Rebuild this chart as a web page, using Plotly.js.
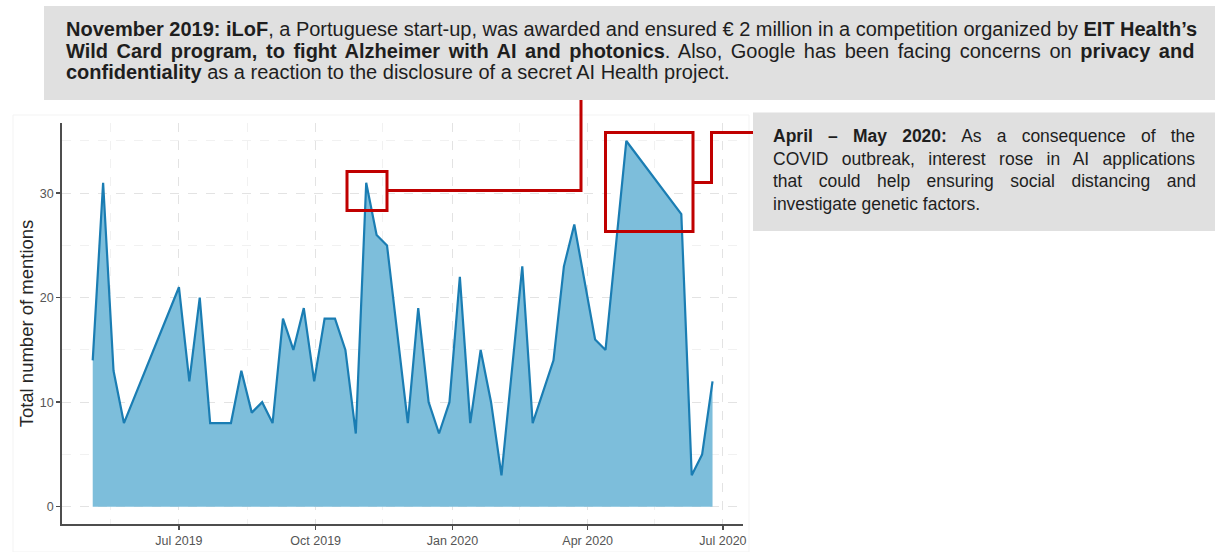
<!DOCTYPE html>
<html>
<head>
<meta charset="utf-8">
<script src="https://cdn.plot.ly/plotly-3.0.1.min.js"></script>
<style>html,body{margin:0;padding:0;background:#fff;}#chart{width:1215px;height:552px;}</style>
</head>
<body>
<div id="chart"></div>
<script>
// ---- data (weekly mention counts) ----
const weekDates = [
  '2019-05-04','2019-05-11','2019-05-18','2019-05-25',
  '2019-07-01','2019-07-08','2019-07-15','2019-07-22','2019-07-29',
  '2019-08-05','2019-08-12','2019-08-19','2019-08-26',
  '2019-09-02','2019-09-09','2019-09-16','2019-09-23','2019-09-30',
  '2019-10-07','2019-10-14','2019-10-21','2019-10-28',
  '2019-11-04','2019-11-11','2019-11-18',
  '2019-12-02','2019-12-09','2019-12-16','2019-12-23','2019-12-30',
  '2020-01-06','2020-01-13','2020-01-20','2020-01-27','2020-02-03',
  '2020-02-17','2020-02-24',
  '2020-03-09','2020-03-16','2020-03-23',
  '2020-04-06','2020-04-13','2020-04-27',
  '2020-06-03','2020-06-10','2020-06-17','2020-06-24'
];
const mentions = [
  14,31,13,8,
  21,12,20,8,8,
  8,13,9,10,
  8,18,15,19,12,
  18,18,15,7,
  31,26,25,
  8,19,10,7,10,
  22,8,15,10,3,
  23,8,
  14,23,27,
  16,15,35,
  28,3,5,12
];
const xTickFormat = '%b %Y';
const yAxisTitle = 'Total number of mentions';

// annotation texts
const topLines = [
  [{t:'November 2019: iLoF', b:true},{t:', a Portuguese start-up, was awarded and ensured € 2 million in a competition organized by ', b:false},{t:'EIT Health’s', b:true}],
  [{t:'Wild Card program, to fight Alzheimer with AI and photonics', b:true},{t:'. Also, Google has been facing concerns on ', b:false},{t:'privacy and', b:true}],
  [{t:'confidentiality', b:true},{t:' as a reaction to the disclosure of a secret AI Health project.', b:false}]
];
const sideLines = [
  [{t:'April – May 2020:', b:true},{t:' As a consequence of the', b:false}],
  [{t:'COVID outbreak, interest rose in AI applications', b:false}],
  [{t:'that could help ensuring social distancing and', b:false}],
  [{t:'investigate genetic factors.', b:false}]
];

// ---- layout geometry ----
const W = 1215, H = 552;
const M = {l:62, r:472, t:123, b:28};
const PW = W - M.l - M.r, PH = H - M.t - M.b;
const px = v => (v - M.l) / PW;
const py = v => (H - M.b - v) / PH;
const FAM = 'Liberation Sans, Arial, sans-serif';

const cv = document.createElement('canvas').getContext('2d');
function natWidth(segs, size){
  let w = 0;
  segs.forEach(s => { cv.font = (s.b ? 'bold ' : '') + size + 'px "Liberation Sans", Arial, sans-serif'; w += cv.measureText(s.t).width; });
  return w;
}
function esc(s){ return s.replace(/&/g,'&amp;').replace(/</g,'&lt;').replace(/>/g,'&gt;'); }
function lineAnn(segs, x0, x1, yc, size, justify){
  let inner = segs.map(s => s.b ? '<b>' + esc(s.t) + '</b>' : esc(s.t)).join('');
  if (justify){
    const nat = natWidth(segs, size);
    const gaps = segs.map(s => s.t).join('').split(' ').length - 1;
    const ws = gaps > 0 ? (x1 - x0 - nat) / gaps : 0;
    inner = '<span style="word-spacing:' + ws.toFixed(2) + 'px">' + inner + '</span>';
  }
  return {xref:'paper', yref:'paper', x:px(x0 - 2), y:py(yc), xanchor:'left', yanchor:'middle',
          showarrow:false, align:'left', text:inner, font:{family:FAM, size:size, color:'#1e1e1e'}};
}

const annotations = [];
const topY = [29, 50.5, 72];
topLines.forEach((ln, i) => annotations.push(lineAnn(ln, 66, 1197, topY[i], 20, i < 2)));
const sideY = [136, 158.5, 181, 203.5];
sideLines.forEach((ln, i) => annotations.push(lineAnn(ln, 773, 1196, sideY[i], 17.5, i < 3)));

const RED = '#c00000';
const P = (x, y) => px(x).toFixed(5) + ',' + py(y).toFixed(5);
const shapes = [
  // faint frame of the pasted chart
  {type:'rect', xref:'paper', yref:'paper', x0:px(13), x1:px(749), y0:py(552), y1:py(115), line:{color:'#f3f3f3', width:1}, layer:'below'},
  // grey text boxes
  {type:'rect', xref:'paper', yref:'paper', x0:px(44), x1:px(1215), y0:py(100), y1:py(6), fillcolor:'#e0e0e0', line:{width:0}, layer:'below'},
  {type:'rect', xref:'paper', yref:'paper', x0:px(753), x1:px(1215), y0:py(231), y1:py(112.5), fillcolor:'#e0e0e0', line:{width:0}, layer:'below'},
  // red highlight boxes
  {type:'rect', xref:'paper', yref:'paper', x0:px(347), x1:px(387), y0:py(210.5), y1:py(171.5), line:{color:RED, width:3}},
  {type:'rect', xref:'paper', yref:'paper', x0:px(605.5), x1:px(693), y0:py(231.5), y1:py(132.5), line:{color:RED, width:3}},
  // connectors
  {type:'path', xref:'paper', yref:'paper', path:'M' + P(387,190.5) + ' L' + P(581,190.5) + ' L' + P(581,100), line:{color:RED, width:3}},
  {type:'path', xref:'paper', yref:'paper', path:'M' + P(693,182.5) + ' L' + P(711.5,182.5) + ' L' + P(711.5,132.5) + ' L' + P(753,132.5), line:{color:RED, width:3}}
];

const trace = {
  type:'scatter', mode:'lines', x:weekDates, y:mentions,
  fill:'tozeroy', fillcolor:'#7dbedb',
  line:{color:'#1a7db3', width:2.2}, hoverinfo:'x+y'
};

const axisCommon = {
  showline:true, linecolor:'#4d4d4d', linewidth:1.8,
  ticks:'outside', ticklen:4, tickwidth:1.5, tickcolor:'#4d4d4d',
  tickfont:{family:FAM, size:12.5, color:'#555555'},
  showgrid:true, gridcolor:'#e3e3e3', griddash:'dash', gridwidth:1,
  zeroline:false, fixedrange:true
};

const layout = {
  width:W, height:H, margin:M, showlegend:false,
  paper_bgcolor:'#ffffff', plot_bgcolor:'#ffffff',
  xaxis: Object.assign({}, axisCommon, {
    type:'date', range:['2019-04-13 08:00','2020-07-14 12:00'],
    tick0:'2019-01-01', dtick:'M3', tickformat:xTickFormat,
    minor:{tickvals:['2019-05-16','2019-08-16','2019-11-15','2020-02-15','2020-05-16'], showgrid:true, gridcolor:'#f1f1f1', griddash:'dash', gridwidth:1}
  }),
  yaxis: Object.assign({}, axisCommon, {
    range:[-1.66, 36.72], tick0:0, dtick:10,
    minor:{dtick:5, showgrid:true, gridcolor:'#f1f1f1', griddash:'dash', gridwidth:1},
    title:{text:yAxisTitle, font:{family:FAM, size:18.5, color:'#262626'}, standoff:1}
  }),
  shapes: shapes,
  annotations: annotations
};

Plotly.newPlot('chart', [trace], layout, {displayModeBar:false, staticPlot:true});
</script>
</body>
</html>
